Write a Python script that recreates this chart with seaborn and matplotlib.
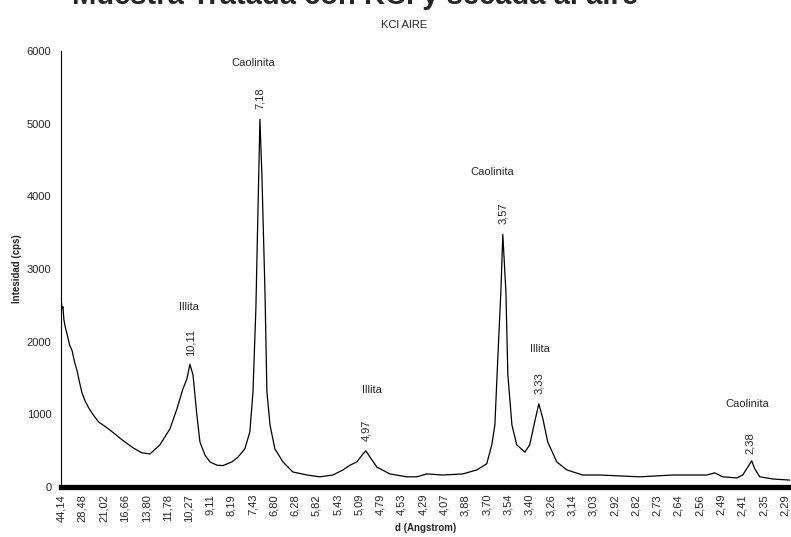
import matplotlib
matplotlib.use("Agg")
import matplotlib.pyplot as plt
import seaborn as sns
import pandas as pd

# ---- data ----
two_theta = [2.00, 2.05, 2.10, 2.15, 2.22, 2.30, 2.36, 2.45, 2.57, 2.70, 2.83, 2.95, 3.08, 3.25,
             3.45, 3.70, 3.96, 4.30, 4.69, 5.20, 5.72, 6.18, 6.60, 7.11, 7.63, 7.99, 8.30, 8.51,
             8.66, 8.82, 8.92, 9.02, 9.18, 9.44, 9.70, 10.06, 10.37, 10.83, 11.14, 11.50, 11.76,
             11.92, 12.07, 12.18, 12.28, 12.38, 12.54, 12.64, 12.80, 13.05, 13.47, 13.98, 14.71,
             15.38, 16.05, 16.57, 16.93, 17.29, 17.60, 17.75, 17.96, 18.32, 18.99, 19.87, 20.39,
             20.90, 21.73, 22.76, 23.49, 24.00, 24.26, 24.42, 24.57, 24.73, 24.83, 24.99, 25.09,
             25.30, 25.55, 25.97, 26.22, 26.48, 26.69, 26.90, 27.15, 27.62, 28.14, 28.96, 29.84,
             31.91, 33.61, 35.37, 35.78, 36.19, 36.92, 37.23, 37.49, 37.69, 37.85, 38.11, 38.78,
             39.66]
intensity = [2620, 2450, 2480, 2300, 2200, 2120, 2050, 1950, 1880, 1720, 1600, 1450, 1300, 1180,
             1080, 980, 890, 830, 750, 640, 540, 470, 455, 580, 800, 1075, 1350, 1490,
             1690, 1545, 1270, 990, 620, 440, 345, 300, 295, 345, 410, 525, 760,
             1310, 2455, 3835, 5060, 4300, 2690, 1310, 855, 525, 345, 207, 165,
             140, 165, 235, 300, 345, 455, 497, 415, 275, 180, 140, 140,
             180, 165, 180, 235, 320, 580, 855, 1765, 2690, 3475, 2690, 1545,
             855, 580, 480, 580, 900, 1145, 940, 620, 345, 235, 165, 165,
             140, 165, 165, 195, 140, 125, 165, 275, 360, 250, 140, 110,
             95]

d_tick_labels = ["44,14", "28,48", "21,02", "16,66", "13,80", "11,78", "10,27", "9,11", "8,19",
                 "7,43", "6,80", "6,28", "5,82", "5,43", "5,09", "4,79", "4,53", "4,29", "4,07",
                 "3,88", "3,70", "3,54", "3,40", "3,26", "3,14", "3,03", "2,92", "2,82", "2,73",
                 "2,64", "2,56", "2,49", "2,41", "2,35", "2,29"]
y_ticks = [0, 1000, 2000, 3000, 4000, 5000, 6000]

mineral_names = ["Illita", "Caolinita", "Illita", "Caolinita", "Illita", "Caolinita"]
peak_d_labels = ["10,11", "7,18", "4,97", "3,57", "3,33", "2,38"]

# label layout (2theta, intensity) for name and d-value texts
name_pos = [(8.63, 2476), (11.93, 5832), (18.08, 1334), (24.27, 4333), (26.75, 1898), (37.45, 1142)]
dval_pos = [(8.68, 1995), (12.29, 5351), (17.77, 784), (24.84, 3769), (26.70, 1431), (37.60, 605)]

sns.set_theme(style="white")
plt.rcParams["font.family"] = ["Liberation Sans", "DejaVu Sans"]

fig = plt.figure(figsize=(7.91, 5.37), dpi=100)
ax = fig.add_axes([61 / 791, 1 - 487 / 537, 729 / 791, 436 / 537])

df = pd.DataFrame({"two_theta": two_theta, "intensity": intensity})
sns.lineplot(data=df, x="two_theta", y="intensity", ax=ax, color="black",
             linewidth=0.9, sort=False, estimator=None)

ax.set_xlim(2.0, 39.67)
ax.set_ylim(0, 6000)
tick_pos = [2.0 + 1.1 * i for i in range(len(d_tick_labels))]
ax.set_xticks(tick_pos)
ax.set_xticklabels(d_tick_labels, rotation=90, fontsize=8)
ax.set_yticks(y_ticks)
ax.set_yticklabels([str(v) for v in y_ticks], fontsize=8)
ax.tick_params(axis="x", length=0, pad=5)
ax.tick_params(axis="y", length=4, width=0.8, color="black", direction="out", pad=3)

for s in ["top", "right"]:
    ax.spines[s].set_visible(False)
ax.spines["left"].set_color("black")
ax.spines["left"].set_linewidth(0.8)
ax.spines["bottom"].set_color("black")
ax.spines["bottom"].set_linewidth(3.8)
ax.grid(False)

ax.set_xlabel("d (Angstrom)", fontsize=7, fontweight="bold", labelpad=1)
ax.set_ylabel("Intesidad (cps)", fontsize=7, fontweight="bold", labelpad=3)

for name, (x, y) in zip(mineral_names, name_pos):
    ax.text(x, y, name, fontsize=8, ha="center", va="center")
for lab, (x, y) in zip(peak_d_labels, dval_pos):
    ax.text(x, y, lab, fontsize=8, ha="center", va="center", rotation=90)

fig.text(0.449, 1 - 4 / 537, "Muestra Tratada con KCl y secada al aire", fontsize=21,
         fontweight="bold", ha="center", va="baseline")
fig.text(404 / 791, 1 - 25 / 537, "KCl AIRE", fontsize=8, ha="center", va="center")

fig.savefig("out.png", dpi=100, facecolor="white")
